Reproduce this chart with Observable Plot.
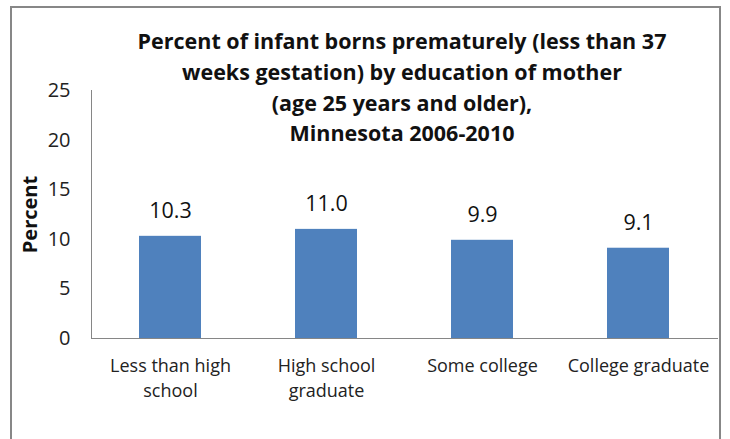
<!DOCTYPE html>
<html>
<head>
<meta charset="utf-8">
<script src="https://cdn.jsdelivr.net/npm/d3@7"></script>
<script src="https://cdn.jsdelivr.net/npm/@observablehq/plot@0.6"></script>
<style>
  html, body { margin: 0; padding: 0; background: #fff; }
  #wrap { position: relative; width: 730px; height: 439px; overflow: hidden; }
  #border { position: absolute; left: 10px; top: 6px; width: 711px; height: 460px; border: 2px solid #878787; box-sizing: border-box; pointer-events: none; }
</style>
</head>
<body>
<div id="wrap"><div id="border"></div></div>
<script>
const categories = ["Less than high school", "High school graduate", "Some college", "College graduate"];
const tickLabels = ["Less than high\nschool", "High school\ngraduate", "Some college", "College graduate"];
const values = [10.3, 11.0, 9.9, 9.1];
const yTicks = [0, 5, 10, 15, 20, 25];
const titleText = "Percent of infant borns prematurely (less than 37\nweeks gestation) by education of mother\n(age 25 years and older),\nMinnesota 2006-2010";
const yLabel = "Percent";

const data = categories.map((c, i) => ({category: c, value: values[i]}));
const labelOf = new Map(categories.map((c, i) => [c, tickLabels[i]]));

const chart = Plot.plot({
  width: 730,
  height: 439,
  marginLeft: 91,
  marginRight: 12,
  marginTop: 90,
  marginBottom: 101,
  style: {fontFamily: "'Open Sans', sans-serif", background: "transparent", color: "#222"},
  x: {domain: categories, paddingInner: 0.6, paddingOuter: 0.3},
  y: {domain: [0, 25]},
  marks: [
    Plot.barY(data, {x: "category", y: "value", fill: "#4F81BD"}),
    Plot.frame({anchor: "left", stroke: "#868686"}),
    Plot.ruleY([0], {stroke: "#868686"}),
    Plot.axisY({ticks: yTicks, tickSize: 0, tickPadding: 21, fontSize: 20, label: null, tickFormat: d => String(d)}),
    Plot.axisX({tickSize: 0, tickPadding: 16, fontSize: 18, lineHeight: 1.38, label: null, tickFormat: d => labelOf.get(d), lineAnchor: "top"}),
    Plot.text(data, {x: "category", y: "value", text: d => d.value.toFixed(1), dy: -25, fontSize: 21.5, fill: "#111"}),
    Plot.text([yLabel], {frameAnchor: "left", textAnchor: "middle", rotate: -90, dx: -61, fontSize: 20, fontWeight: "bold", fill: "#111"}),
    Plot.text([titleText], {frameAnchor: "top", dx: -3, dy: -5, lineAnchor: "middle", lineHeight: 1.42, fontSize: 21.5, fontWeight: "bold", fill: "#111"})
  ]
});
document.getElementById("wrap").prepend(chart);
</script>
</body>
</html>
